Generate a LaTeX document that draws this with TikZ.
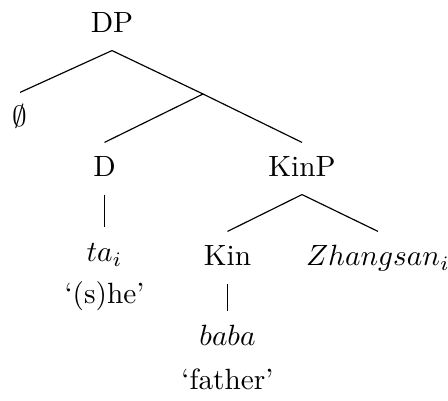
\documentclass[tikz,border=0pt]{standalone}
\usepackage{amsmath}
\usepackage{tikz}
\tikzset{
  figure/.style={x=0.012cm,y=-0.012cm},
  cat/.style={anchor=base,inner sep=0pt,text height=11.6pt,text depth=5.8pt},
  gloss/.style={anchor=base,inner sep=0pt},
  branch/.style={line width=0.4pt},
}
\begin{document}
\begin{tikzpicture}[figure]
  \useasboundingbox (0,0) rectangle (448,401);

  \node[cat] (dp) at (112,33) {DP};
  \node[cat] (null) at (20,127) {$\emptyset$};
  \coordinate (bar) at (203,94);
  \node[cat] (d) at (104.5,177) {D};
  \node[cat] (kinp) at (302,177) {KinP};
  \node[cat] (ta) at (104.5,262) {$ta_i$};
  \node[gloss] (she) at (104.5,304) {`(s)he'};
  \node[cat] (kin) at (227.5,266) {Kin};
  \node[cat] (zs) at (378,266) {$Zhangsan_i$};
  \node[cat] (baba) at (227.5,346) {$baba$};
  \node[gloss] (father) at (227.5,390) {`father'};

  \draw[branch] (dp.south) -- (null.north);
  \draw[branch] (dp.south) -- (bar);
  \draw[branch] (bar) -- (d.north);
  \draw[branch] (bar) -- (kinp.north);
  \draw[branch] (d.south) -- (ta.north);
  \draw[branch] (kinp.south) -- (kin.north);
  \draw[branch] (kinp.south) -- (zs.north);
  \draw[branch] (kin.south) -- (baba.north);
\end{tikzpicture}
\end{document}
